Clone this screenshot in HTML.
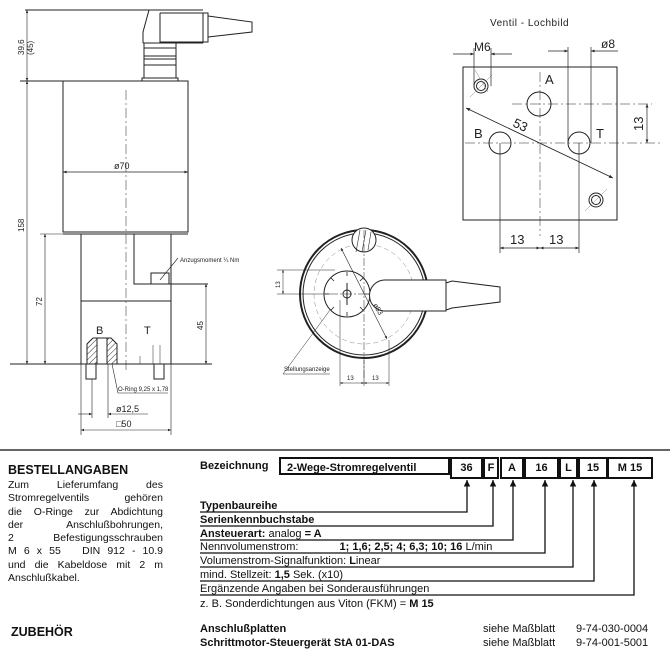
<!DOCTYPE html>
<html><head><meta charset="utf-8"><style>
body{margin:0;background:#fff;width:670px;height:655px;overflow:hidden;position:relative;font-family:"Liberation Sans",sans-serif;color:#111}
.t{position:absolute;white-space:nowrap;font-size:11px}
.b{font-weight:bold}
.p{position:absolute;left:8px;top:479px;width:155px;font-size:10.5px;line-height:13.3px;text-align:justify;text-align-last:left}
.p span{display:block;text-align:justify;text-align-last:justify}
.p span.l{text-align-last:left}
.cell{position:absolute;top:457px;height:18px;border:2px solid #111;font-weight:bold;font-size:11px;text-align:center;line-height:18px}
</style></head><body>
<svg width="670" height="450" style="position:absolute;left:0;top:0" font-family="Liberation Sans, sans-serif" fill="none" stroke="#222" stroke-width="1">
<defs>
<marker id="a" viewBox="0 0 10 10" refX="10" refY="5" markerWidth="6" markerHeight="5" orient="auto-start-reverse"><path d="M0 1L10 5L0 9Z" fill="#222" stroke="none"/></marker>
<pattern id="h" width="4" height="4" patternUnits="userSpaceOnUse" patternTransform="rotate(45)"><line x1="0" y1="0" x2="0" y2="4" stroke="#333"/></pattern>
</defs>
<!-- left side view -->
<line x1="25" y1="10" x2="203" y2="10"/>
<path d="M149 10 L143 32 L143 43 M143 43 H203 M160 13 H208 V42 H160 V13 M203 13 V43"/>
<path d="M208 16 L252 22 V32 L208 37"/>
<rect x="144" y="43" width="32" height="35"/>
<path d="M144 48H176M144 56H176M144 59H176M144 65H176"/>
<rect x="142" y="78" width="36" height="3"/>
<line x1="20" y1="81" x2="188" y2="81"/>
<rect x="63" y="81" width="125" height="151"/>
<line x1="63" y1="234" x2="188" y2="234"/>
<line x1="63" y1="172" x2="188" y2="172" marker-start="url(#a)" marker-end="url(#a)" stroke-width="0.7"/>
<text x="114" y="169" font-size="9" fill="#222" stroke="none">ø70</text>
<line x1="126" y1="90" x2="126" y2="370" stroke-dasharray="10 3 2 3" stroke-width="0.5"/>
<rect x="81" y="234" width="90" height="130"/>
<path d="M134 234 V284 H208"/>
<rect x="151" y="273" width="18" height="11"/>
<path d="M160 280 L178 258" stroke-width="0.6"/>
<text x="180" y="262" font-size="6" fill="#222" stroke="none">Anzugsmoment ¼ Nm</text>
<line x1="81" y1="301" x2="171" y2="301"/>
<line x1="10" y1="364" x2="212" y2="364"/>
<text x="96" y="334" font-size="11" fill="#222" stroke="none">B</text>
<text x="144" y="334" font-size="11" fill="#222" stroke="none">T</text>
<path d="M93 338 H111 L117 344 V364 H107 V338 M93 338 L87 344 V364 H97 V338" fill="url(#h)"/>
<path d="M140 364 V356 M153 364 V345 M160 364 V345" stroke-width="0.5"/>
<rect x="86" y="364" width="10" height="15"/><rect x="154" y="364" width="10" height="15"/>
<path d="M112 364 L118 393 H168" stroke-width="0.6"/>
<text x="118" y="391" font-size="6" fill="#222" stroke="none">O-Ring 9,25 x 1,78</text>
<path d="M81 364 V435 M171 364 V435 M92 379 V418 M108 364 V418" stroke-width="0.6"/>
<line x1="78" y1="414" x2="92" y2="414" stroke-width="0.6" marker-end="url(#a)"/>
<line x1="108" y1="414" x2="148" y2="414" stroke-width="0.6" marker-start="url(#a)"/>
<text x="116" y="412" font-size="9" fill="#222" stroke="none">ø12,5</text>
<line x1="81" y1="430" x2="171" y2="430" marker-start="url(#a)" marker-end="url(#a)" stroke-width="0.6"/>
<text x="116" y="427" font-size="9" fill="#222" stroke="none">□50</text>
<line x1="27" y1="10" x2="27" y2="81" marker-start="url(#a)" marker-end="url(#a)" stroke-width="0.6"/>
<line x1="27" y1="81" x2="27" y2="364" marker-start="url(#a)" marker-end="url(#a)" stroke-width="0.6"/>
<text transform="translate(24,55) rotate(-90)" font-size="8" fill="#222" stroke="none">39,6</text>
<text transform="translate(33,55) rotate(-90)" font-size="8" fill="#222" stroke="none">(45)</text>
<text transform="translate(24,232) rotate(-90)" font-size="8" fill="#222" stroke="none">158</text>
<path d="M40 234 H81" stroke-width="0.6"/>
<line x1="45" y1="234" x2="45" y2="364" marker-start="url(#a)" marker-end="url(#a)" stroke-width="0.6"/>
<text transform="translate(42,306) rotate(-90)" font-size="8" fill="#222" stroke="none">72</text>
<line x1="206" y1="284" x2="206" y2="364" marker-start="url(#a)" marker-end="url(#a)" stroke-width="0.6"/>
<text transform="translate(203,330) rotate(-90)" font-size="8" fill="#222" stroke="none">45</text>
<!-- top view circle -->
<circle cx="364" cy="294" r="64" stroke-width="2"/>
<circle cx="364" cy="294" r="61"/>
<circle cx="364" cy="294" r="50" stroke-dasharray="5 3" stroke-width="0.5" stroke="#888"/>
<circle cx="364" cy="240" r="12" fill="#fff"/>
<path d="M360 230 L356 252 M366 230 L362 252 M371 232 L368 250" stroke-width="0.6"/>
<circle cx="347" cy="294" r="23"/>
<path d="M347 272V276M347 312V316M325 294H329M365 294H369M331 278l3 3M363 278l-3 3M331 310l3-3M363 310l-3-3" stroke-width="0.8"/>
<circle cx="347" cy="294" r="4"/>
<path d="M347 283 V305"/>
<path d="M330 294 H430 M364 230 V378" stroke-dasharray="8 2 2 2" stroke-width="0.5"/>
<path d="M385 280 H446 V311 H385 M385 280 A15 15 0 0 0 385 311" fill="#fff"/>
<path d="M446 283 L452 281 L500 287 V302 L452 308 L446 310"/>
<line x1="341" y1="248" x2="387" y2="339" marker-start="url(#a)" marker-end="url(#a)" stroke-width="0.6"/>
<text transform="translate(373,305) rotate(60)" font-size="7" fill="#222" stroke="none">ø53</text>
<path d="M277 270 H335 M277 294 H330" stroke-width="0.5"/>
<line x1="283" y1="270" x2="283" y2="294" marker-start="url(#a)" marker-end="url(#a)" stroke-width="0.5"/>
<text transform="translate(280,288) rotate(-90)" font-size="6" fill="#222" stroke="none">13</text>
<path d="M340 300 V386 M364 360 V386 M389 340 V386" stroke-width="0.5"/>
<line x1="340" y1="383" x2="364" y2="383" marker-start="url(#a)" marker-end="url(#a)" stroke-width="0.5"/>
<line x1="364" y1="383" x2="389" y2="383" marker-start="url(#a)" marker-end="url(#a)" stroke-width="0.5"/>
<text x="347" y="380" font-size="6" fill="#222" stroke="none">13</text><text x="372" y="380" font-size="6" fill="#222" stroke="none">13</text>
<path d="M330 310 L283 374 H330" stroke-width="0.5"/>
<text x="284" y="371" font-size="6" fill="#222" stroke="none">Stellungsanzeige</text>
<!-- Lochbild -->
<text x="490" y="26" font-size="10" fill="#222" stroke="none" letter-spacing="0.5">Ventil - Lochbild</text>
<rect x="463" y="67" width="154" height="153"/>
<path d="M540 72 V236 M512 104 H652 M465 143 H660" stroke-dasharray="10 3 2 3" stroke-width="0.5"/>
<circle cx="539" cy="104" r="12"/>
<circle cx="500" cy="143" r="11"/><circle cx="579" cy="143" r="11"/>
<circle cx="481" cy="86" r="7"/><circle cx="481" cy="86" r="4.5"/>
<circle cx="596" cy="200" r="7"/><circle cx="596" cy="200" r="4.5"/>
<path d="M470 97 L492 75 M585 211 L607 189 M475 70 L488 92" stroke-width="0.5" stroke="#888"/>
<text x="545" y="84" font-size="13" fill="#222" stroke="none">A</text>
<text x="474" y="138" font-size="13" fill="#222" stroke="none">B</text>
<text x="596" y="138" font-size="13" fill="#222" stroke="none">T</text>
<line x1="466" y1="108" x2="613" y2="178" marker-start="url(#a)" marker-end="url(#a)" stroke-width="0.8"/>
<text transform="translate(512,126) rotate(25)" font-size="13" fill="#222" stroke="none">53</text>
<path d="M474 48 V86 M491 48 V86" stroke-width="0.7"/>
<line x1="453" y1="54" x2="474" y2="54" marker-end="url(#a)" stroke-width="0.7"/>
<line x1="491" y1="54" x2="512" y2="54" marker-start="url(#a)" stroke-width="0.7"/>
<text x="474" y="51" font-size="12" fill="#222" stroke="none">M6</text>
<path d="M568 47 V143 M591 47 V143" stroke-width="0.7"/>
<line x1="548" y1="51" x2="568" y2="51" marker-end="url(#a)" stroke-width="0.7"/>
<line x1="591" y1="51" x2="618" y2="51" marker-start="url(#a)" stroke-width="0.7"/>
<text x="601" y="48" font-size="12" fill="#222" stroke="none">ø8</text>
<path d="M500 143 V253 M579 143 V253" stroke-width="0.7"/>
<line x1="500" y1="248" x2="540" y2="248" marker-start="url(#a)" marker-end="url(#a)" stroke-width="0.7"/>
<line x1="540" y1="248" x2="579" y2="248" marker-start="url(#a)" marker-end="url(#a)" stroke-width="0.7"/>
<text x="510" y="244" font-size="13" fill="#222" stroke="none">13</text><text x="549" y="244" font-size="13" fill="#222" stroke="none">13</text>
<line x1="647" y1="104" x2="647" y2="143" marker-start="url(#a)" marker-end="url(#a)" stroke-width="0.7"/>
<text transform="translate(643,131) rotate(-90)" font-size="13" fill="#222" stroke="none">13</text>
</svg>
<div style="position:absolute;left:0;top:449px;width:670px;height:2px;background:#666"></div>
<div class="t b" style="left:8px;top:463px;font-size:12.5px">BESTELLANGABEN</div>
<div class="p"><span>Zum Lieferumfang des</span><span>Stromregelventils gehören</span><span>die O-Ringe zur Abdichtung</span><span>der Anschlußbohrungen,</span><span>2 Befestigungsschrauben</span><span>M 6 x 55 &nbsp; DIN 912 - 10.9</span><span>und die Kabeldose mit 2 m</span><span class="l">Anschlußkabel.</span></div>
<div class="t b" style="left:11px;top:625px;font-size:12.5px">ZUBEHÖR</div>
<div class="t b" style="left:200px;top:460px">Bezeichnung</div>
<div class="cell" style="left:279px;width:165px;text-align:left;padding-left:6px;box-sizing:border-box;width:171px">2-Wege-Stromregelventil</div>
<div class="cell" style="left:450px;width:29px">36</div>
<div class="cell" style="left:483px;width:12px">F</div>
<div class="cell" style="left:500px;width:20px">A</div>
<div class="cell" style="left:524px;width:31px">16</div>
<div class="cell" style="left:559px;width:15px">L</div>
<div class="cell" style="left:578px;width:26px">15</div>
<div class="cell" style="left:607px;width:42px">M 15</div>
<svg width="670" height="655" style="position:absolute;left:0;top:0" stroke="#111" stroke-width="1.3" fill="none">
<defs><marker id="u" viewBox="0 0 10 10" refX="10" refY="5" markerWidth="5" markerHeight="6" orient="auto"><path d="M0 0L10 5L0 10Z" fill="#111" stroke="none"/></marker></defs>
<path d="M200 512 H467 V480" marker-end="url(#u)"/>
<path d="M200 526 H493 V480" marker-end="url(#u)"/>
<path d="M200 540 H513 V480" marker-end="url(#u)"/>
<path d="M200 553 H545 V480" marker-end="url(#u)"/>
<path d="M200 567 H573 V480" marker-end="url(#u)"/>
<path d="M200 581 H594 V480" marker-end="url(#u)"/>
<path d="M200 595 H634 V480" marker-end="url(#u)"/>
</svg>
<div class="t b" style="left:200px;top:500px">Typenbaureihe</div>
<div class="t b" style="left:200px;top:514px">Serienkennbuchstabe</div>
<div class="t" style="left:200px;top:528px"><b>Ansteuerart:</b> analog <b>= A</b></div>
<div class="t" style="left:200px;top:541px">Nennvolumenstrom: <span style="margin-left:38px"><b>1; 1,6; 2,5; 4; 6,3; 10; 16</b> L/min</span></div>
<div class="t" style="left:200px;top:555px">Volumenstrom-Signalfunktion: <b>L</b>inear</div>
<div class="t" style="left:200px;top:569px">mind. Stellzeit: <b>1,5</b> Sek. (x10)</div>
<div class="t" style="left:200px;top:583px">Ergänzende Angaben bei Sonderausführungen</div>
<div class="t" style="left:200px;top:598px">z. B. Sonderdichtungen aus Viton (FKM) = <b>M 15</b></div>
<div class="t b" style="left:200px;top:623px">Anschlußplatten</div>
<div class="t b" style="left:200px;top:637px">Schrittmotor-Steuergerät StA 01-DAS</div>
<div class="t" style="left:483px;top:623px">siehe Maßblatt</div>
<div class="t" style="left:483px;top:637px">siehe Maßblatt</div>
<div class="t" style="left:576px;top:623px">9-74-030-0004</div>
<div class="t" style="left:576px;top:637px">9-74-001-5001</div>
</body></html>
